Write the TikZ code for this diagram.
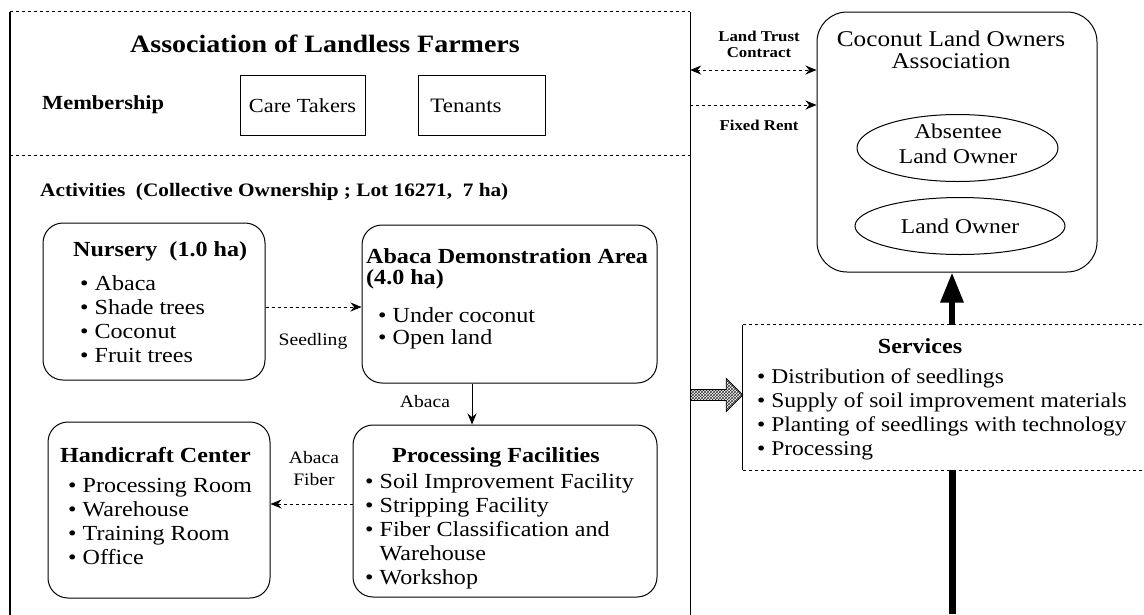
\documentclass[tikz,border=0pt]{standalone}
\usepackage{fontspec}
\setmainfont{Liberation Serif}[FakeStretch=1.12]
\usetikzlibrary{arrows.meta,shapes.geometric,shapes.arrows,patterns,calc}

\begin{document}
\begin{tikzpicture}[x=1pt,y=-1pt,
  rbox/.style={draw, line width=1pt, rounded corners=20pt, inner sep=0pt},
  sbox/.style={draw, line width=0.9pt, inner sep=0pt},
  oval/.style={draw, ellipse, line width=1pt, inner sep=0pt},
  txt/.style={inner sep=0pt, font=\fontsize{21.5}{24}\selectfont, align=left},
  hdr/.style={inner sep=0pt, font=\fontsize{21.5}{21}\selectfont\bfseries, align=left},
  lbl/.style={inner sep=0pt, font=\fontsize{17.5}{22}\selectfont, align=center},
  blbl/.style={inner sep=0pt, font=\fontsize{15}{16}\selectfont\bfseries, align=center},
  dasharrow/.style={dashed, line width=0.8pt, -{Stealth[length=11pt,width=9pt]}},
  solidarrow/.style={line width=1pt, -{Stealth[length=11pt,width=9pt]}},
]
\useasboundingbox (0,0) rectangle (1144,614);

% ---------- Association of Landless Farmers (outer frame) ----------
\node[inner sep=0pt, minimum width=680pt, minimum height=620pt] (alf) at (350,322) {};
\draw[line width=1.4pt] (alf.north west) -- (alf.south west);
\draw[line width=1.4pt] (alf.north east) -- (alf.south east);
\draw[dashed, line width=0.7pt] (alf.north west) -- (alf.north east);

\node[inner sep=0pt, anchor=base, font=\fontsize{25}{30}\selectfont\bfseries] (title) at (325,52)
  {Association of Landless Farmers};

\node[inner sep=0pt, anchor=base west, font=\fontsize{20}{24}\selectfont\bfseries] (member) at (42,109) {Membership};
\node[sbox, minimum width=125pt, minimum height=60pt] (care) at (302.5,105) {};
\node[inner sep=0pt, anchor=base, font=\fontsize{20}{24}\selectfont] (caretxt) at (care.center |- 0,112) {Care Takers};
\node[sbox, minimum width=127pt, minimum height=60pt] (ten) at (481.5,105) {};
\node[inner sep=0pt, anchor=base, font=\fontsize{20.5}{24}\selectfont] (tentxt) at (466,112) {Tenants};

\coordinate (sepL) at (alf.west |- 0,155);
\coordinate (sepR) at (alf.east |- 0,155);
\draw[dashed, line width=0.7pt] (sepL) -- (sepR);

\node[inner sep=0pt, anchor=base west, font=\fontsize{19}{24}\selectfont\bfseries] (act) at (40,196)
  {Activities\ \ (Collective Ownership ; Lot 16271,\ \ 7 ha)};

% ---------- Nursery ----------
\node[rbox, minimum width=222pt, minimum height=157pt] (nur) at (154,301.5) {};
\node[hdr, anchor=base west] (nurh) at (73,256) {Nursery\ \ (1.0 ha)};
\node[txt, anchor=base west] (nurl) at (80,362)
  {• Abaca\\• Shade trees\\• Coconut\\• Fruit trees};

% ---------- Abaca Demonstration Area ----------
\node[rbox, minimum width=295pt, minimum height=158pt] (demo) at (509.5,304) {};
\node[hdr, anchor=base west] (demoh) at (366,284) {Abaca Demonstration Area\\(4.0 ha)};
\node[txt, anchor=base west, font=\fontsize{21.5}{22}\selectfont] (demol) at (378,344) {• Under coconut\\• Open land};

% ---------- Processing Facilities ----------
\node[rbox, minimum width=304pt, minimum height=172pt] (proc) at (505,511) {};
\node[hdr, anchor=base] (proch) at (496,462) {Processing Facilities};
\node[txt, anchor=base west] (procl) at (365,584)
  {• Soil Improvement Facility\\• Stripping Facility\\• Fiber Classification and\\\phantom{• }Warehouse\\• Workshop};

% ---------- Handicraft Center ----------
\node[rbox, minimum width=222pt, minimum height=176pt] (hand) at (159,510) {};
\node[hdr, anchor=base west] (handh) at (60,462) {Handicraft Center};
\node[txt, anchor=base west] (handl) at (68,564)
  {• Processing Room\\• Warehouse\\• Training Room\\• Office};

% ---------- Coconut Land Owners Association ----------
\node[draw, line width=1pt, rounded corners=30pt, inner sep=0pt, minimum width=280pt, minimum height=260pt] (clo) at (957,142) {};
\node[inner sep=0pt, anchor=base, align=center, font=\fontsize{22.5}{22}\selectfont] (cloh) at (951,68)
  {Coconut Land Owners\\Association};
\node[oval, minimum width=201pt, minimum height=67pt] (abs) at (957.5,148) {};
\node[inner sep=0pt, anchor=base, align=center, font=\fontsize{21}{25}\selectfont] (abstxt) at (958,163)
  {Absentee\\Land Owner};
\node[oval, minimum width=210pt, minimum height=57pt] (own) at (960,226) {};
\node[inner sep=0pt, anchor=base, font=\fontsize{21}{25}\selectfont] (owntxt) at (960,233) {Land Owner};

% ---------- Services ----------
\node[inner sep=0pt, minimum width=417pt, minimum height=145pt] (svc) at (951.5,397.5) {};
\draw[line width=1.2pt] (svc.north west) -- (svc.south west);
\draw[dashed, line width=0.7pt] (svc.north west) -- (svc.north east);
\draw[dashed, line width=0.7pt] (svc.south west) -- (svc.south east);
\node[hdr, anchor=base] (svch) at (920,353) {Services};
\node[txt, anchor=base west, font=\fontsize{21}{24}\selectfont] (svcl) at (757,455)
  {• Distribution of seedlings\\• Supply of soil improvement materials\\• Planting of seedlings with technology\\• Processing};

% ---------- connectors ----------
\coordinate (seedy) at (0,307);
\draw[dasharrow] (nur.east |- seedy) -- (demo.west |- seedy);
\node[lbl, anchor=base] (seedlbl) at (313,345) {Seedling};

\coordinate (abx) at (472,0);
\draw[solidarrow] (demo.south -| abx) -- (proc.north -| abx);
\node[lbl, anchor=base] (abacalbl) at (425,407) {Abaca};

\coordinate (fiby) at (0,504);
\draw[dasharrow] (proc.west |- fiby) -- (hand.east |- fiby);
\node[lbl, anchor=base] (fiblbl) at (314,485) {Abaca\\Fiber};

\coordinate (lty) at (0,70);
\draw[dashed, line width=0.8pt, {Stealth[length=11pt,width=9pt]}-{Stealth[length=11pt,width=9pt]}]
  (alf.east |- lty) -- (clo.west |- lty);
\node[blbl, anchor=base] (ltlbl) at (759,57) {Land Trust\\Contract};

\coordinate (fry) at (0,105);
\draw[dasharrow] (alf.east |- fry) -- (clo.west |- fry);
\node[blbl, anchor=base] (frlbl) at (759,130) {Fixed Rent};

\coordinate (hay) at (0,395);
\node[single arrow, draw, line width=0.9pt, pattern=crosshatch, pattern color=black!80, inner sep=5pt,
      single arrow head extend=11pt, minimum height=52pt, anchor=tail] (hatch) at (alf.east |- hay) {};

\coordinate (upx) at (952,0);
\coordinate (bottom) at (952,614);
\draw[line width=6pt, -{Triangle[length=30pt,width=22pt]}] (svc.north -| upx) -- (clo.south -| upx);
\draw[line width=7pt] (svc.south -| upx) -- (bottom);

\end{tikzpicture}
\end{document}
